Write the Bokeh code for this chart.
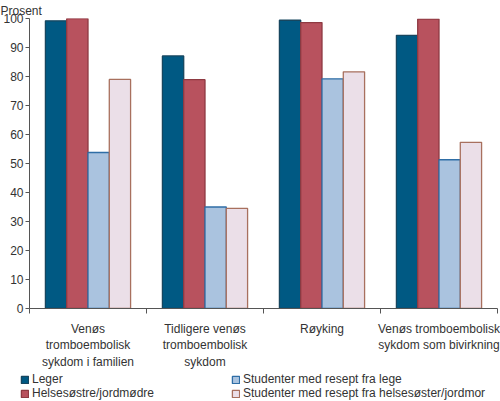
from bokeh.plotting import figure
from bokeh.layouts import column
from bokeh.models import Range1d, FixedTicker, Legend, LegendItem
from bokeh.embed import file_html
from bokeh.resources import INLINE
import numpy as np

categories = ["Venøs\ntromboembolisk\nsykdom i familien",
              "Tidligere venøs\ntromboembolisk\nsykdom",
              "Røyking",
              "Venøs tromboembolisk\nsykdom som bivirkning"]
series_names = ["Leger", "Helsesøstre/jordmødre",
                "Studenter med resept fra lege",
                "Studenter med resept fra helsesøster/jordmor"]
leger = [99.2, 87.1, 99.4, 94.2]
helsesostre = [100, 78.9, 98.6, 99.8]
stud_lege = [53.8, 35.0, 79.2, 51.3]
stud_helse = [79.0, 34.5, 81.6, 57.3]
y_ticks = [0, 10, 20, 30, 40, 50, 60, 70, 80, 90, 100]

fills = ["#005983", "#b8525e", "#aac3df", "#ebdfe8"]
lines = ["#17465f", "#8e3a42", "#2f6ea6", "#a8705e"]

FONT = "Liberation Sans"
TXT = "#333333"
AX = "#555555"
W = 500

p = figure(width=W, height=372, output_backend="svg", toolbar_location=None,
           x_range=Range1d(0, 4), y_range=Range1d(0, 100),
           min_border_left=27, min_border_right=3, min_border_top=0,
           min_border_bottom=0)
p.frame_align = False
p.outline_line_color = None
p.xgrid.visible = False
p.ygrid.visible = False

p.title.text = "Prosent"
p.title.text_font = FONT
p.title.text_font_size = "12px"
p.title.text_font_style = "normal"
p.title.text_color = TXT
p.title.align = "left"
p.title.offset = -29
p.title.standoff = 2

n = len(categories)
centers = np.arange(n) + 0.5
bw = 0.182
series = [leger, helsesostre, stud_lege, stud_helse]
for j, vals in enumerate(series):
    xs = centers + (j - 1.5) * bw
    p.vbar(x=xs, top=vals, bottom=0, width=bw, fill_color=fills[j],
           line_color=lines[j], line_width=1.3)

# y axis
ya = p.yaxis[0]
ya.ticker = FixedTicker(ticks=y_ticks, minor_ticks=[])
ya.major_label_text_font = FONT
ya.major_label_text_font_size = "12px"
ya.major_label_text_color = TXT
ya.axis_line_color = AX
ya.major_tick_line_color = AX
ya.major_tick_out = 4
ya.major_tick_in = 0
ya.major_label_standoff = 2

# x axis
xa = p.xaxis[0]
xa.ticker = FixedTicker(ticks=list(centers), minor_ticks=list(np.arange(n + 1)))
xa.major_label_overrides = {float(c): lab for c, lab in zip(centers, categories)}
xa.major_label_text_font = FONT
xa.major_label_text_font_size = "12px"
xa.major_label_text_color = TXT
xa.major_label_text_align = "center"
xa.major_tick_line_color = None
xa.major_tick_out = 0
xa.major_tick_in = 0
xa.minor_tick_line_color = AX
xa.minor_tick_out = 5
xa.minor_tick_in = 0
xa.axis_line_color = AX
xa.major_label_standoff = 8

# legend figure
LH = 28
lf = figure(width=W, height=LH, output_backend="svg", toolbar_location=None,
            x_range=Range1d(0, W), y_range=Range1d(0, LH),
            x_axis_location=None, y_axis_location=None, title=None,
            min_border_left=0, min_border_right=0, min_border_top=0,
            min_border_bottom=0)
lf.frame_align = False
lf.outline_line_color = None
lf.xgrid.visible = False
lf.ygrid.visible = False
dummies = []
for j in range(4):
    dummies.append(lf.vbar(x=[W / 2], top=[-20], bottom=[-30], width=1,
                           fill_color=fills[j], line_color=lines[j], line_width=1.3))

def mk_legend(idx, loc):
    lg = Legend(items=[LegendItem(label=series_names[i], renderers=[dummies[i]]) for i in idx],
                location=loc, orientation="vertical", padding=0, margin=0,
                spacing=0, glyph_width=9, glyph_height=9, label_height=11,
                label_standoff=3, label_text_font=FONT, label_text_font_size="12px",
                label_text_color=TXT, border_line_color=None,
                background_fill_alpha=0)
    lf.add_layout(lg, "center")

mk_legend([0, 1], (20, 0))
mk_legend([2, 3], (231, 0))

open("out.html", "w").write(file_html(column(p, lf, spacing=0), INLINE))
